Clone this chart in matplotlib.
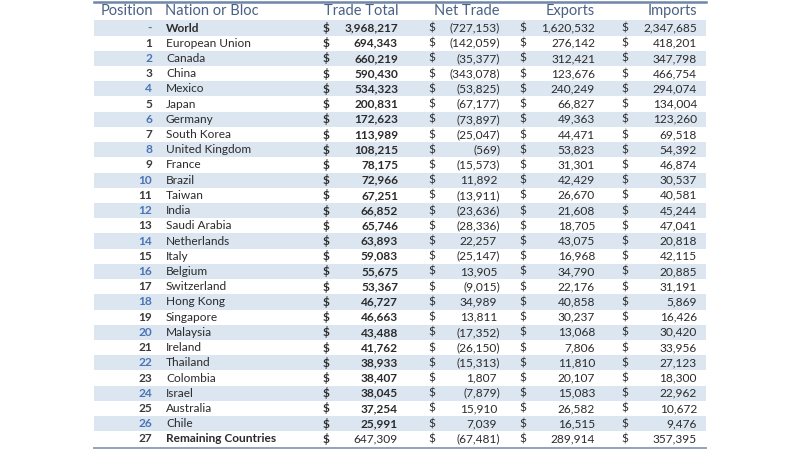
import matplotlib
matplotlib.use('Agg')
import matplotlib.pyplot as plt

plt.rcParams['font.family'] = ['Lato', 'DejaVu Sans']

# table data (millions of US$)
positions = ['-'] + [str(i) for i in range(1, 28)]
names = ['World', 'European Union', 'Canada', 'China', 'Mexico', 'Japan', 'Germany',
         'South Korea', 'United Kingdom', 'France', 'Brazil', 'Taiwan', 'India',
         'Saudi Arabia', 'Netherlands', 'Italy', 'Belgium', 'Switzerland', 'Hong Kong',
         'Singapore', 'Malaysia', 'Ireland', 'Thailand', 'Colombia', 'Israel',
         'Australia', 'Chile', 'Remaining Countries']
trade_total = [3968217, 694343, 660219, 590430, 534323, 200831, 172623, 113989, 108215,
               78175, 72966, 67251, 66852, 65746, 63893, 59083, 55675, 53367, 46727,
               46663, 43488, 41762, 38933, 38407, 38045, 37254, 25991, 647309]
net_trade = [-727153, -142059, -35377, -343078, -53825, -67177, -73897, -25047, -569,
             -15573, 11892, -13911, -23636, -28336, 22257, -25147, 13905, -9015, 34989,
             13811, -17352, -26150, -15313, 1807, -7879, 15910, 7039, -67481]
exports = [1620532, 276142, 312421, 123676, 240249, 66827, 49363, 44471, 53823, 31301,
           42429, 26670, 21608, 18705, 43075, 16968, 34790, 22176, 40858, 30237, 13068,
           7806, 11810, 20107, 15083, 26582, 16515, 289914]
imports = [2347685, 418201, 347798, 466754, 294074, 134004, 123260, 69518, 54392, 46874,
           30537, 40581, 45244, 47041, 20818, 42115, 20885, 31191, 5869, 16426, 30420,
           33956, 27123, 18300, 22962, 10672, 9476, 357395]
headers = ['Position', 'Nation or Bloc', 'Trade Total', 'Net Trade', 'Exports', 'Imports']


def acct(v):
    if v < 0:
        return '({:,})'.format(-v)
    return '{:,}'.format(v)


fig = plt.figure(figsize=(8, 4.5), dpi=100)
ax = fig.add_axes([0, 0, 1, 1])
ax.set_xlim(0, 800)
ax.set_ylim(27.73, -1.84)
ax.axis('off')

n = len(names)
shade = '#dce6f1'
left, right = 94, 706

# banded rows
rows = [i for i in range(n) if i % 2 == 0]
ax.barh(rows, right - left, left=left, height=1.0, color=shade, zorder=0)

# borders
ax.plot([left, right], [-1.72, -1.72], color='#6f87a8', lw=1.8)
ax.plot([left, right], [27.58, 27.58], color='#8ea3c0', lw=1.4)

hc = '#4a6184'
hfs = 10.5
ax.text(153, -1.12, headers[0], ha='right', va='center', fontsize=hfs, color=hc)
ax.text(165, -1.12, headers[1], ha='left', va='center', fontsize=hfs, color=hc)
for x, h in zip([399, 500, 595, 697], headers[2:]):
    ax.text(x, -1.12, h, ha='right', va='center', fontsize=hfs, color=hc)

fs = 8.6
txt = '#2b2b2b'
for i in range(n):
    pc = '#4a74b4' if i % 2 == 0 else '#3a3a3a'
    ax.text(152, i, positions[i], ha='right', va='center', fontsize=fs,
            color=pc, fontweight='bold')
    nb = 'bold' if i in (0, n - 1) else 'normal'
    ax.text(166, i, names[i], ha='left', va='center', fontsize=fs, color=txt,
            fontweight=nb)
    ax.text(326, i, '$', ha='center', va='center', fontsize=fs, color=txt,
            fontweight='bold')
    tb = 'normal' if i == n - 1 else 'bold'
    ax.text(398, i, acct(trade_total[i]), ha='right', va='center', fontsize=fs,
            color=txt, fontweight=tb)
    ax.text(432, i, '$', ha='center', va='center', fontsize=fs, color=txt)
    nx = 500 if net_trade[i] < 0 else 497
    ax.text(nx, i, acct(net_trade[i]), ha='right', va='center', fontsize=fs, color=txt)
    ax.text(523, i, '$', ha='center', va='center', fontsize=fs, color=txt)
    ax.text(595, i, acct(exports[i]), ha='right', va='center', fontsize=fs, color=txt)
    ax.text(625, i, '$', ha='center', va='center', fontsize=fs, color=txt)
    ax.text(697, i, acct(imports[i]), ha='right', va='center', fontsize=fs, color=txt)

fig.savefig('out.png', dpi=100)
